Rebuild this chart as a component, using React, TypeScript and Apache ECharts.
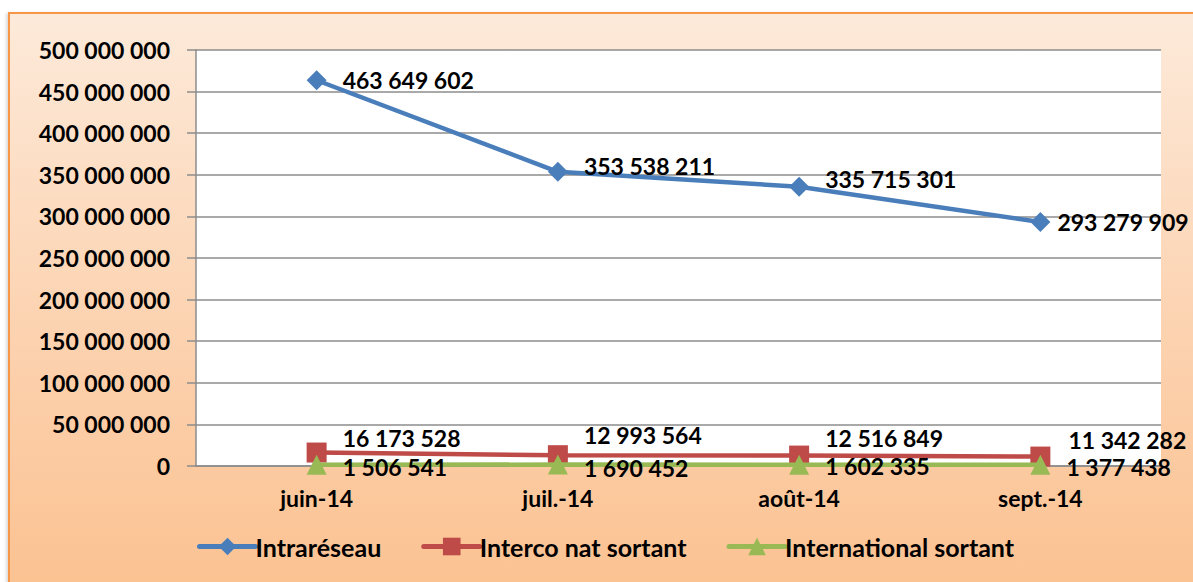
import React, { useEffect, useRef } from "react";
import * as echarts from "echarts";

const categories = ["juin-14", "juil.-14", "août-14", "sept.-14"];
const intrareseau = [463649602, 353538211, 335715301, 293279909];
const intercoNatSortant = [16173528, 12993564, 12516849, 11342282];
const internationalSortant = [1506541, 1690452, 1602335, 1377438];
const seriesNames = ["Intraréseau", "Interco nat sortant", "International sortant"];

const FONT = "Lato";
const fmt = (v: number) => String(Math.round(v)).replace(/\B(?=(\d{3})+(?!\d))/g, " ");

// per-point label nudges (pixel adjustments mimicking the reference placement)
const intraOffsets = [[0, 0], [0, -6], [0, -8], [-9, 0]];
const intercoOffsets = [[0, -15], [0, -20], [0, -18], [2, -17]];
const interOffsets = [[0, 2], [0, 3], [0, 1], [0, 2]];

export default function App() {
  const ref = useRef<HTMLDivElement>(null);
  useEffect(() => {
    if (!ref.current) return;
    const chart = echarts.init(ref.current, undefined, { renderer: "svg" });
    const labelBase = {
      show: true,
      position: "right" as const,
      distance: 16,
      color: "#000",
      fontFamily: FONT,
      fontWeight: "bold" as const,
      fontSize: 23,
      formatter: (p: any) => fmt(p.value),
    };
    const mk = (vals: number[], offs: number[][]) =>
      vals.map((v, i) => ({ value: v, label: { offset: offs[i] } }));
    chart.setOption({
      animation: false,
      backgroundColor: "transparent",
      grid: {
        left: 196,
        right: 32,
        top: 50,
        bottom: 116,
        show: true,
        backgroundColor: "#ffffff",
        borderWidth: 0,
      },
      legend: {
        bottom: 18,
        left: 192,
        itemWidth: 56,
        itemHeight: 22,
        itemGap: 40,
        data: seriesNames,
        lineStyle: { width: 5, cap: "round" },
        textStyle: { fontFamily: FONT, fontWeight: "bold", fontSize: 25, color: "#000", padding: [0, 0, 0, -5] },
      },
      xAxis: {
        type: "category",
        data: categories,
        boundaryGap: true,
        axisLine: { show: true, lineStyle: { color: "#8c8c8c", width: 1.5 } },
        axisTick: { show: false },
        axisLabel: { margin: 20, fontFamily: FONT, fontWeight: "bold", fontSize: 23, color: "#000" },
      },
      yAxis: {
        type: "value",
        min: 0,
        max: 500000000,
        interval: 50000000,
        axisLine: { show: true, lineStyle: { color: "#8c8c8c", width: 1.5 } },
        axisTick: { show: true, inside: false, length: 9, lineStyle: { color: "#8c8c8c", width: 1.5 } },
        splitLine: { show: true, lineStyle: { color: "#8c8c8c", width: 1.5 } },
        axisLabel: {
          margin: 26,
          fontFamily: FONT,
          fontWeight: "bold",
          fontSize: 23,
          color: "#000",
          formatter: (v: number) => fmt(v),
        },
      },
      series: [
        {
          name: seriesNames[0],
          type: "line",
          data: mk(intrareseau, intraOffsets),
          symbol: "diamond",
          symbolSize: 20,
          itemStyle: { color: "#4a7ebb" },
          lineStyle: { color: "#4a7ebb", width: 4.5 },
          label: { ...labelBase },
          z: 3,
        },
        {
          name: seriesNames[1],
          type: "line",
          data: mk(intercoNatSortant, intercoOffsets),
          symbol: "rect",
          symbolSize: 20,
          itemStyle: { color: "#be4b48" },
          lineStyle: { color: "#be4b48", width: 4.5 },
          label: { ...labelBase },
          z: 2,
        },
        {
          name: seriesNames[2],
          type: "line",
          data: mk(internationalSortant, interOffsets),
          symbol: "triangle",
          symbolSize: 20,
          itemStyle: { color: "#98b954" },
          lineStyle: { color: "#98b954", width: 4.5 },
          label: { ...labelBase },
          z: 4,
        },
      ],
    });
    return () => chart.dispose();
  }, []);
  return (
    <div style={{ position: "fixed", left: 0, top: 0, width: 1193, height: 582, background: "#fff", overflow: "hidden" }}>
      <div
        style={{
          position: "absolute",
          left: 8,
          top: 12,
          width: 1220,
          height: 620,
          border: "2px solid #f79646",
          background: "linear-gradient(180deg, #fdeada 0%, #fcd3b1 50%, #fbbf8c 100%)",
          boxShadow: "-2px 1px 3px rgba(0,0,0,0.15)",
        }}
      />
      <div ref={ref} style={{ position: "absolute", left: 0, top: 0, width: 1193, height: 582 }} />
    </div>
  );
}
